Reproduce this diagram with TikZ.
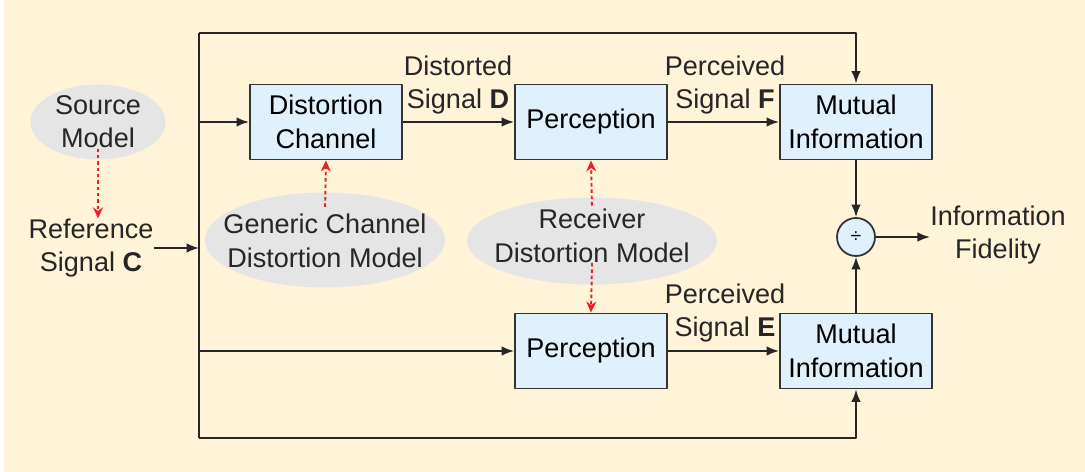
\documentclass[tikz,border=0pt]{standalone}
\usepackage{fontspec}
\setmainfont{Liberation Sans}
\usetikzlibrary{arrows.meta,shapes.geometric}
\definecolor{paper}{RGB}{255,243,216}
\definecolor{boxblue}{RGB}{222,241,253}
\definecolor{cloud}{RGB}{229,229,229}
\definecolor{modelred}{RGB}{236,32,40}
\begin{document}
\begin{tikzpicture}[x=0.02cm,y=-0.02cm,>={Latex[length=2.5mm,width=1.9mm]},line join=round,
	font=\fontsize{15.4}{19}\selectfont,
	block/.style={draw=black!80,fill=boxblue,line width=1.1pt,minimum width=3.04cm,minimum height=1.5cm,align=center,inner sep=0pt},
	model/.style={ellipse,fill=cloud,inner sep=0pt},
	sigtext/.style={align=center,inner sep=0pt,text=black!85},
	link/.style={->,line width=1pt,draw=black!85},
	hint/.style={->,modelred,line width=1.1pt,dash pattern=on 2pt off 1.6pt,>={Stealth[length=2.2mm,width=2mm]}}]
	\useasboundingbox (0,0) rectangle (1085,472);
	\fill [paper] (4,0) rectangle (1085,472);
	% grey clouds for the models
	\node [model,minimum width=2.7cm,minimum height=1.5cm] (src) at (98,122) {};
	\node [model,minimum width=4.8cm,minimum height=1.9cm] (gen) at (325,240) {};
	\node [model,minimum width=5cm,minimum height=1.74cm] (rcv) at (592,241) {};
	\node [sigtext] (srctext) at (src) {Source\\Model};
	\node [sigtext] (gentext) at (325,241) {Generic Channel\\Distortion Model};
	\node [sigtext] (rcvtext) at (592,236) {Receiver\\Distortion Model};
	% blocks
	\node [block] (dc) at (326,122) {Distortion\\Channel};
	\node [block] (pt) at (591,122) {Perception};
	\node [block] (mt) at (856,122) {Mutual\\Information};
	\node [block] (pb) at (591,351) {Perception};
	\node [block] (mb) at (856,351) {Mutual\\Information};
	\node [circle,draw=black!80,fill=boxblue,line width=1pt,minimum size=0.76cm,inner sep=0pt] (div) at (856,237) {\fontsize{11}{11}\selectfont ÷};
	% signal names
	\node [sigtext] (ref) at (91,248) {Reference\\Signal \textbf{C}};
	\node [sigtext] (sigD) at (458,85) {Distorted\\Signal \textbf{D}};
	\node [sigtext] (sigF) at (725,85) {Perceived\\Signal \textbf{F}};
	\node [sigtext] (sigE) at (725,313) {Perceived\\Signal \textbf{E}};
	\node [sigtext] (fid) at (998,235) {Information\\Fidelity};
	% feed bus
	\path (199,33) coordinate (busTop)
		(199,438) coordinate (busBot)
		(199,248) coordinate (tapC)
		(199,122) coordinate (tapD)
		(199,351) coordinate (tapP);
	\draw [line width=1pt,draw=black!85] (busTop)--(busBot);
	\draw [link] (ref.east)--(tapC);
	\draw [link] (busTop)-|(mt.north);
	\draw [link] (busBot)-|(mb.south);
	\draw [link] (tapD)--(dc.west);
	\draw [link] (tapP)--(pb.west);
	\draw [link] (dc)--(pt);
	\draw [link] (pt)--(mt);
	\draw [link] (pb)--(mb);
	\draw [link] (mt)--(div);
	\draw [link] (mb)--(div);
	\draw [link] (div.east)--(div-|fid.west);
	% model influence
	\draw [hint] (srctext.south)--(srctext.south|-ref.north);
	\draw [hint,shorten <=4pt] (gentext.north)--(dc.south);
	\draw [hint,shorten <=2pt] (rcvtext.north)--(pt.south);
	\draw [hint] (rcvtext.south)--(pb.north);
\end{tikzpicture}
\end{document}
